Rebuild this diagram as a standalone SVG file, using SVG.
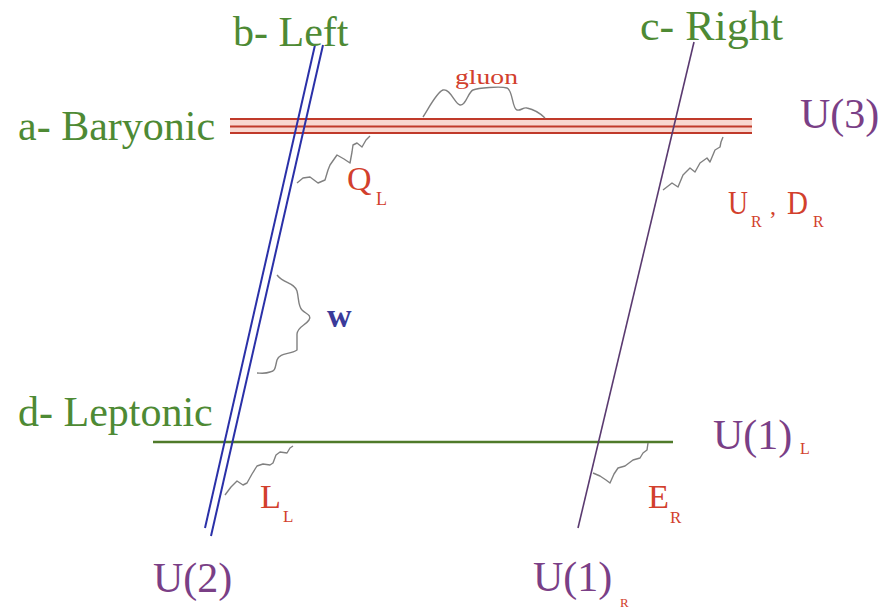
<svg xmlns="http://www.w3.org/2000/svg" width="882" height="609" viewBox="0 0 882 609">
<style>
.lbl{font-family:"Liberation Serif","Times New Roman",serif;font-size:42px;fill:#4e8a34}
.u{font-family:"Liberation Serif","Times New Roman",serif;font-size:42px;fill:#7a3f86}
.r{font-family:"Liberation Serif","Times New Roman",serif;fill:#d2402c}
.wave{fill:none;stroke:#808080;stroke-width:1.4;stroke-linejoin:round}
</style>
<rect width="882" height="609" fill="#ffffff"/>
<g id="baryonic">
<rect x="230" y="118" width="522" height="16" fill="#f8d8d0"/>
<line x1="230" y1="119" x2="752" y2="119" stroke="#c03a2a" stroke-width="2.2"/>
<line x1="230" y1="126.5" x2="752" y2="126.5" stroke="#c03a2a" stroke-width="2.2"/>
<line x1="230" y1="133" x2="752" y2="133" stroke="#c03a2a" stroke-width="2.2"/>
<text class="lbl" x="18" y="140">a- Baryonic</text>
</g>
<g id="leptonic">
<line x1="153" y1="442" x2="673" y2="442" stroke="#4f7a2a" stroke-width="2.4"/>
<text class="lbl" x="18" y="426">d- Leptonic</text>
</g>
<g id="left">
<line x1="315" y1="45" x2="205" y2="528" stroke="#2a30a8" stroke-width="2"/>
<line x1="323" y1="45" x2="211" y2="536" stroke="#2a30a8" stroke-width="2"/>
<text class="lbl" x="233" y="46">b- Left</text>
</g>
<g id="right">
<line x1="694" y1="42" x2="578" y2="528" stroke="#5a3a70" stroke-width="1.6"/>
<text class="lbl" x="640" y="40" textLength="143" lengthAdjust="spacingAndGlyphs">c- Right</text>
</g>
<g id="u3"><text class="u" x="800" y="128">U(3)</text></g>
<g id="u1l"><text class="u" x="713" y="449">U(1)</text><text class="r" x="800" y="454" font-size="16">L</text></g>
<g id="u2"><text class="u" x="153" y="592">U(2)</text></g>
<g id="u1r"><text class="u" x="533" y="591">U(1)</text><text class="r" x="620" y="607" font-size="13">R</text></g>
<g id="connectors">
<path class="wave" d="M423,117 C430,106 437,92 443,90 C450,88 455,104 460,105 C466,106 468,92 473,90 C478,88 500,86 507,88 C513,90 512,109 517,110 C521,111 523,107 527,108 C536,110 541,114 545,118"/>
<polyline class="wave" points="297,183 303,178 310,177 318,183 325,180 328,170 330,165 337,155 344,159 350,163 352,152 353,145 357,143 362,147 366,140 370,136"/>
<polyline class="wave" points="663,190 672,183 678,187 683,175 690,168 695,172 700,163 707,158 710,162 715,150 720,147 721,142 723,137"/>
<path class="wave" d="M277,275 C284,284 294,282 297,291 C299,299 298,306 302,310 C306,314 312,315 309,320 C305,326 298,326 297,334 L297,350 C290,355 280,352 277,360 C275,367 276,371 270,372 C265,374 260,373 257,373"/>
<polyline class="wave" points="225,495 231,487 237,481 243,485 247,483 252,474 257,466 263,464 270,465 273,463 276,455 280,452 287,453 290,448 293,446"/>
<polyline class="wave" points="593,473 600,476 606,480 610,483 614,474 618,468 625,466 633,460 640,458 643,453 647,450 648,443"/>
</g>
<g id="labels">
<text class="r" x="455" y="84" font-size="20" textLength="63" lengthAdjust="spacingAndGlyphs">gluon</text>
<text class="r" x="347" y="190" font-size="34">Q</text><text class="r" x="376" y="205" font-size="18">L</text>
<text class="r" x="728" y="214" font-size="34" textLength="20" lengthAdjust="spacingAndGlyphs">U</text>
<text class="r" x="751" y="227" font-size="16">R</text>
<text class="r" x="770" y="214" font-size="24">,</text>
<text class="r" x="787" y="214" font-size="34" textLength="21" lengthAdjust="spacingAndGlyphs">D</text>
<text class="r" x="813" y="227" font-size="16">R</text>
<text class="r" x="260" y="508" font-size="34" textLength="21" lengthAdjust="spacingAndGlyphs">L</text>
<text class="r" x="283" y="522" font-size="17">L</text>
<text class="r" x="648" y="508" font-size="34" textLength="21" lengthAdjust="spacingAndGlyphs">E</text>
<text class="r" x="670" y="523" font-size="17">R</text>
<text x="327" y="327" font-family="Liberation Serif, Times New Roman, serif" font-size="34" font-weight="bold" fill="#3a3a9a">w</text>
</g>
</svg>
